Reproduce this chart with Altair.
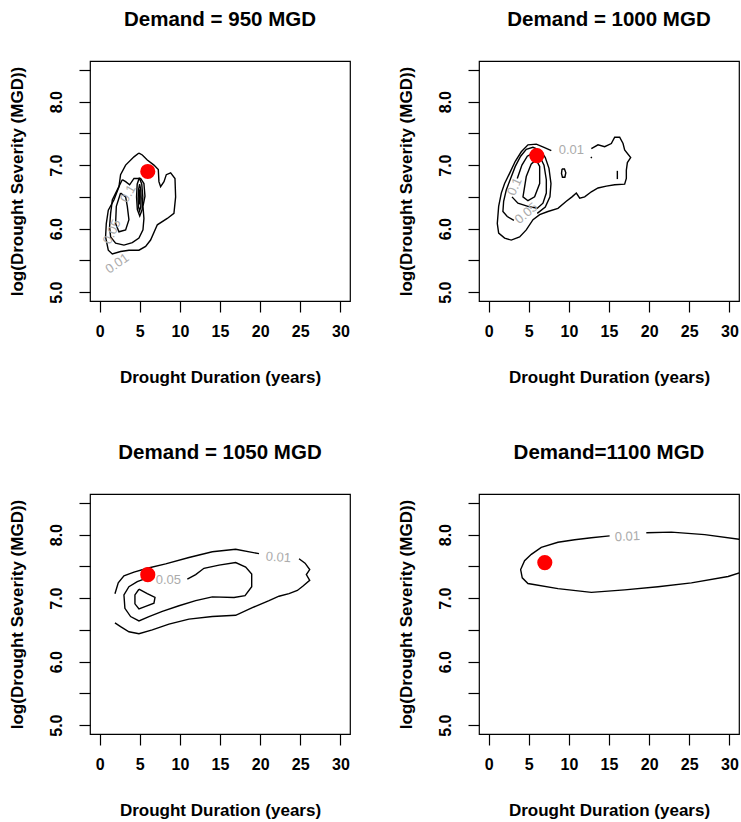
import altair as alt
import pandas as pd

FONT = "Liberation Sans"

PANEL_TITLES = ["Demand = 950 MGD", "Demand = 1000 MGD", "Demand = 1050 MGD", "Demand=1100 MGD"]
X_TICKS = [0, 5, 10, 15, 20, 25, 30]
Y_TICKS = [5.0, 5.5, 6.0, 6.5, 7.0, 7.5, 8.0, 8.5]
X_DOMAIN = [-1.2, 31.2]
Y_DOMAIN = [4.86, 8.64]

# observed (duration, log severity) points
POINT_X = [6, 6, 6, 7]
POINT_Y = [6.9, 7.15, 7.37, 7.56]

# ---------------- Panel 1 contours (Demand = 950) ----------------
P1_L01 = [(4.90, 7.19), (4.28, 7.13), (3.24, 7.00), (2.61, 6.85), (2.41, 6.66), (1.78, 6.45), (1.08, 6.29),
          (0.83, 6.08), (0.74, 5.87), (1.08, 5.66), (1.58, 5.60), (2.61, 5.64), (3.65, 5.66), (4.90, 5.66),
          (5.73, 5.72), (6.35, 5.82), (7.19, 6.06), (8.43, 6.16), (9.26, 6.24), (9.47, 6.50), (9.39, 6.79),
          (8.85, 6.88), (8.31, 6.85), (8.02, 6.74), (7.60, 6.66), (7.39, 6.74), (7.31, 6.93), (6.77, 7.00),
          (5.94, 7.08), (5.32, 7.16)]
P1_L05 = [(2.82, 6.77), (2.20, 6.61), (1.58, 6.45), (1.37, 6.24), (1.24, 6.03), (1.37, 5.87), (1.99, 5.77),
          (3.03, 5.74), (4.07, 5.78), (4.90, 5.85), (5.40, 5.98), (5.52, 6.16), (5.40, 6.35), (5.65, 6.51),
          (5.52, 6.71), (5.11, 6.79), (4.28, 6.79), (3.74, 6.69), (3.24, 6.74)]
P1_L10 = [(2.61, 6.56), (2.08, 6.35), (1.99, 6.08), (2.41, 5.95), (3.24, 5.98), (3.65, 6.14), (3.45, 6.35),
          (3.24, 6.50)]
P1_L15 = [(4.95, 6.80), (5.25, 6.70), (5.38, 6.50), (5.30, 6.30), (5.00, 6.20), (4.70, 6.30), (4.60, 6.50),
          (4.68, 6.70)]
P1_L20 = [(4.98, 6.70), (5.12, 6.62), (5.18, 6.48), (5.12, 6.34), (4.98, 6.28), (4.85, 6.34), (4.80, 6.48),
          (4.86, 6.62)]
P1_L25 = [(4.98, 6.62), (5.05, 6.50), (4.98, 6.38), (4.92, 6.50)]
P1_LABELS = [("0.01", 2.2, 5.45, 325), ("0.05", 1.55, 5.95, 295), ("0.1", 3.55, 6.55, 300)]

# ---------------- Panel 2 contours (Demand = 1000) ----------------
P2_L01 = [(12.80, 7.26), (13.63, 7.32), (14.46, 7.29), (15.29, 7.34), (15.71, 7.44), (16.33, 7.44), (16.75, 7.34),
          (16.95, 7.24), (17.70, 7.12), (17.29, 7.04), (17.16, 6.92), (17.16, 6.79), (16.95, 6.70), (15.71, 6.69),
          (14.67, 6.67), (13.63, 6.64), (12.80, 6.58), (11.97, 6.50), (11.35, 6.48), (10.93, 6.56), (10.39, 6.50),
          (9.68, 6.43), (8.64, 6.32), (7.39, 6.27), (6.36, 6.22), (5.53, 6.14), (4.69, 5.98), (3.86, 5.87),
          (2.82, 5.82), (1.99, 5.85), (1.25, 5.93), (1.08, 6.08), (1.25, 6.35), (1.58, 6.56), (1.99, 6.71),
          (2.61, 6.87), (3.32, 7.06), (4.07, 7.21), (4.90, 7.32), (5.94, 7.33), (6.90, 7.28), (7.81, 7.23)]
P2_I1 = [(9.15, 6.94), (9.45, 6.94), (9.62, 6.88), (9.50, 6.81), (9.20, 6.81), (9.08, 6.87)]
P2_I2 = [(16.04, 6.91), (16.04, 6.78)]
P2_I3 = [(12.75, 7.13), (12.85, 7.11)]
P2_L05 = [(6.06, 6.24), (7.06, 6.34), (7.64, 6.50), (7.77, 6.71), (7.52, 6.95), (7.06, 7.12), (6.48, 7.23),
          (5.52, 7.28), (4.69, 7.25), (3.99, 7.14), (3.32, 6.98), (2.74, 6.79), (2.20, 6.61), (1.87, 6.43),
          (1.78, 6.27), (2.32, 6.19), (3.15, 6.13)]
P2_L10 = [(3.57, 6.79), (4.15, 7.00), (4.82, 7.14), (5.52, 7.19), (6.36, 7.14), (6.90, 7.00), (7.19, 6.77),
          (7.19, 6.56), (6.77, 6.40), (6.06, 6.32), (4.90, 6.35), (3.65, 6.40), (2.91, 6.50)]
P2_L20 = [(5.32, 7.02), (4.69, 6.82), (4.28, 6.50), (4.90, 6.44), (5.73, 6.50), (6.36, 6.71), (6.36, 6.98),
          (5.94, 7.08)]
P2_LABELS = [("0.01", 10.31, 7.24, 0), ("0.1", 3.24, 6.66, 295), ("0.05", 4.69, 6.24, 320)]

# ---------------- Panel 3 contours (Demand = 1050) ----------------
P3_L01A = [(1.91, 7.07), (2.32, 7.24), (3.03, 7.35), (4.28, 7.41), (5.94, 7.47), (8.23, 7.54), (11.13, 7.64),
           (14.04, 7.73), (16.95, 7.77), (19.86, 7.70)]
P3_L01B = [(24.85, 7.62), (25.60, 7.55), (26.18, 7.45), (25.76, 7.37), (26.18, 7.28), (25.35, 7.19),
           (24.64, 7.12), (23.60, 7.07), (22.35, 7.03), (21.11, 6.96), (19.03, 6.85), (16.95, 6.73),
           (14.04, 6.71), (11.13, 6.67), (8.64, 6.59), (6.56, 6.50), (4.90, 6.44), (3.65, 6.47), (2.61, 6.55),
           (1.91, 6.61)]
P3_L05 = [(10.93, 7.30), (11.97, 7.37), (13.00, 7.47), (14.88, 7.52), (16.95, 7.56), (18.20, 7.49), (18.95, 7.38),
          (18.95, 7.18), (18.12, 7.04), (16.75, 7.01), (14.04, 7.02), (11.97, 6.96), (9.89, 6.88), (7.81, 6.79),
          (6.15, 6.71), (4.90, 6.64), (3.86, 6.71), (3.15, 6.84), (3.03, 7.05), (3.65, 7.18), (4.69, 7.26),
          (5.52, 7.30)]
P3_L10 = [(4.90, 7.14), (5.94, 7.07), (6.90, 7.01), (6.77, 6.92), (5.73, 6.87), (4.90, 6.83), (4.40, 6.91),
          (4.40, 7.05)]
P3_LABELS = [("0.01", 22.27, 7.64, 4), ("0.05", 8.56, 7.29, 0)]

# ---------------- Panel 4 contours (Demand = 1100) ----------------
P4_L01 = [(19.65, 8.03), (22.77, 8.04), (26.93, 8.00), (31.6, 7.92), (31.6, 7.41), (29.84, 7.34), (25.27, 7.24),
          (21.11, 7.18), (16.95, 7.13), (12.80, 7.09), (8.64, 7.15), (4.90, 7.23), (4.19, 7.32), (3.99, 7.45),
          (4.48, 7.59), (5.32, 7.69), (6.56, 7.80), (8.64, 7.88), (10.72, 7.92), (12.80, 7.95), (15.08, 7.98)]
P4_LABELS = [("0.01", 17.29, 7.97, 357)]

PANELS = [
    ([(P1_L01, True), (P1_L05, True), (P1_L10, True), (P1_L15, True), (P1_L20, True), (P1_L25, True)], P1_LABELS),
    ([(P2_L01, False), (P2_I1, True), (P2_I2, False), (P2_I3, False), (P2_L05, False), (P2_L10, False),
      (P2_L20, True)], P2_LABELS),
    ([(P3_L01A, False), (P3_L01B, False), (P3_L05, False), (P3_L10, True)], P3_LABELS),
    ([(P4_L01, False)], P4_LABELS),
]


def contour_frame(contours):
    rows = []
    for cid, (pts, closed) in enumerate(contours):
        seq = list(pts) + ([pts[0]] if closed else [])
        for i, (x, y) in enumerate(seq):
            rows.append({"cid": cid, "ord": i, "x": x, "y": y})
    return pd.DataFrame(rows)


def make_panel(idx):
    contours, labels = PANELS[idx]
    cdf = contour_frame(contours)
    ldf = pd.DataFrame([{"t": t, "x": x, "y": y, "a": a} for t, x, y, a in labels])
    pdf = pd.DataFrame({"x": [POINT_X[idx]], "y": [POINT_Y[idx]]})

    xenc = alt.X("x:Q", scale=alt.Scale(domain=X_DOMAIN, nice=False, zero=False),
                 axis=alt.Axis(values=X_TICKS, title="Drought Duration (years)", labelFlush=False,
                               labelBaseline="alphabetic", labelPadding=24,
                               titleY=81, titleBaseline="alphabetic"))
    yenc = alt.Y("y:Q", scale=alt.Scale(domain=Y_DOMAIN, nice=False, zero=False),
                 axis=alt.Axis(values=Y_TICKS, title="log(Drought Severity (MGD))",
                               labelExpr="datum.value % 1 === 0 ? format(datum.value, '.1f') : ''",
                               labelAngle=270, labelAlign="center", labelBaseline="alphabetic",
                               labelPadding=18, labelOverlap=False, labelFlush=False,
                               titleX=-68, titleBaseline="alphabetic"))

    lines = alt.Chart(cdf).mark_line(color="black", strokeWidth=1.4, clip=True).encode(
        x=xenc, y=yenc, detail="cid:N", order="ord:Q")
    text = alt.Chart(ldf).mark_text(color="#ababab", fontSize=13, font=FONT, clip=True).encode(
        x=xenc, y=yenc, text="t:N", angle=alt.Angle("a:Q", scale=None))
    dot = alt.Chart(pdf).mark_circle(color="#ff0000", size=230, opacity=1).encode(x=xenc, y=yenc)

    return alt.layer(lines, text, dot).properties(
        width=260, height=240,
        title=alt.Title(PANEL_TITLES[idx], fontSize=20.5, fontWeight="bold", font=FONT,
                        anchor="middle", frame="group", baseline="alphabetic", offset=15))


row1 = alt.hconcat(make_panel(0), make_panel(1), spacing=45)
row2 = alt.hconcat(make_panel(2), make_panel(3), spacing=45)
chart = alt.vconcat(row1, row2, spacing=55).properties(
    padding={"left": 7, "top": 8, "right": 0, "bottom": 0}, background="white"
).configure_view(stroke="black", strokeWidth=1.2).configure_axis(
    domain=False, grid=False, tickColor="black", tickSize=11, tickWidth=1.2,
    labelFont=FONT, labelFontSize=16, labelFontWeight="bold", labelColor="black",
    titleFont=FONT, titleFontSize=17, titleFontWeight="bold", titleColor="black"
)

chart.save("out.html", embed_options={"renderer": "svg", "actions": False})
